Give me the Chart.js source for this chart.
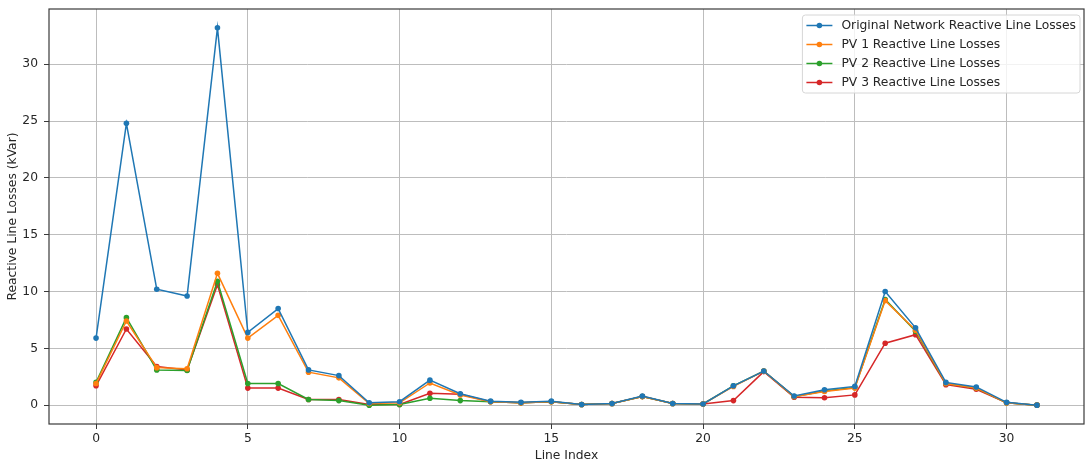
<!DOCTYPE html>
<html>
<head>
<meta charset="utf-8">
<script src="https://cdn.jsdelivr.net/npm/chart.js@4.4.1/dist/chart.umd.min.js"></script>
<style>
  html, body { margin: 0; padding: 0; background: #ffffff; }
  #wrap { width: 1085px; height: 466px; position: relative; }
</style>
</head>
<body>
<div id="wrap"><canvas id="c"></canvas></div>
<script>
// Line indices along the feeder
const lineIndex = [0, 1, 2, 3, 4, 5, 6, 7, 8, 9, 10, 11, 12, 13, 14, 15,
                   16, 17, 18, 19, 20, 21, 22, 23, 24, 25, 26, 27, 28, 29, 30, 31];

// Reactive line losses (kVar) per line
const originalLosses = [5.9, 24.8, 10.2, 9.6, 33.2, 6.4, 8.5, 3.1, 2.6, 0.2, 0.3, 2.2, 1.0, 0.35, 0.25, 0.35,
                        0.05, 0.15, 0.8, 0.15, 0.1, 1.7, 3.0, 0.8, 1.35, 1.65, 10.0, 6.8, 2.0, 1.6, 0.25, 0.0];
const pv1Losses = [1.9, 7.4, 3.3, 3.2, 11.6, 5.9, 7.9, 2.9, 2.4, 0.15, 0.2, 1.95, 0.9, 0.3, 0.2, 0.3,
                   0.05, 0.15, 0.75, 0.15, 0.1, 1.65, 3.0, 0.75, 1.2, 1.5, 9.2, 6.6, 1.9, 1.5, 0.2, 0.0];
const pv2Losses = [2.0, 7.7, 3.1, 3.05, 10.9, 1.9, 1.9, 0.5, 0.4, 0.0, 0.05, 0.6, 0.4, 0.3, 0.2, 0.3,
                   0.05, 0.15, 0.75, 0.15, 0.1, 1.7, 3.0, 0.75, 1.25, 1.55, 9.3, 6.5, 1.9, 1.5, 0.2, 0.0];
const pv3Losses = [1.7, 6.7, 3.4, 3.1, 10.6, 1.5, 1.5, 0.5, 0.5, 0.05, 0.05, 1.05, 0.95, 0.3, 0.2, 0.3,
                   0.05, 0.15, 0.75, 0.15, 0.1, 0.4, 2.95, 0.7, 0.65, 0.9, 5.45, 6.2, 1.8, 1.4, 0.2, 0.0];

const seriesNames = [
  'Original Network Reactive Line Losses',
  'PV 1 Reactive Line Losses',
  'PV 2 Reactive Line Losses',
  'PV 3 Reactive Line Losses'
];
const seriesColors = ['#1f77b4', '#ff7f0e', '#2ca02c', '#d62728'];

// Tick labels
const xTicks = [0, 5, 10, 15, 20, 25, 30];
const yTicks = [0, 5, 10, 15, 20, 25, 30];

const FONT = '"DejaVu Sans", "Liberation Sans", sans-serif';
const FS = 12.3;
const TEXT = '#262626';

function toPoints(values) {
  return lineIndex.map((x, i) => ({ x: x, y: values[i] }));
}

const allSeries = [originalLosses, pv1Losses, pv2Losses, pv3Losses];
const datasets = allSeries.map((vals, k) => ({
  label: seriesNames[k],
  data: toPoints(vals),
  borderColor: seriesColors[k],
  backgroundColor: seriesColors[k],
  pointBackgroundColor: seriesColors[k],
  pointBorderColor: seriesColors[k],
  borderWidth: 1.5,
  pointRadius: 2.8,
  pointBorderWidth: 0,
  tension: 0
}));

// matplotlib-style axis margins (5% of the data span on each side)
const xSpan = lineIndex[lineIndex.length - 1] - lineIndex[0];
const allVals = allSeries.flat();
const yMinData = Math.min(...allVals), yMaxData = Math.max(...allVals);
const ySpan = yMaxData - yMinData;

// Frame around the plotting area
const framePlugin = {
  id: 'frame',
  afterDatasetsDraw(chart) {
    const { ctx, chartArea: a } = chart;
    ctx.save();
    ctx.strokeStyle = '#3a3a3a';
    ctx.lineWidth = 1.2;
    ctx.strokeRect(a.left, a.top, a.right - a.left, a.bottom - a.top);
    ctx.restore();
  }
};

// Framed legend in the upper-right corner of the plot
const boxLegendPlugin = {
  id: 'boxLegend',
  afterDraw(chart) {
    const { ctx, chartArea: a } = chart;
    ctx.save();
    ctx.font = FS + 'px ' + FONT;
    const items = chart.data.datasets.map(d => ({ text: d.label, color: d.borderColor }));
    const textW = Math.max(...items.map(it => ctx.measureText(it.text).width));
    const pad = 4, handle = 26, gap = 9, rowH = 19;
    const w = pad + handle + gap + textW + pad;
    const h = rowH * items.length + 2;
    const x0 = a.right - 4 - w;
    const y0 = a.top + 6;
    // box
    const r = 3;
    ctx.beginPath();
    ctx.moveTo(x0 + r, y0);
    ctx.lineTo(x0 + w - r, y0);
    ctx.quadraticCurveTo(x0 + w, y0, x0 + w, y0 + r);
    ctx.lineTo(x0 + w, y0 + h - r);
    ctx.quadraticCurveTo(x0 + w, y0 + h, x0 + w - r, y0 + h);
    ctx.lineTo(x0 + r, y0 + h);
    ctx.quadraticCurveTo(x0, y0 + h, x0, y0 + h - r);
    ctx.lineTo(x0, y0 + r);
    ctx.quadraticCurveTo(x0, y0, x0 + r, y0);
    ctx.closePath();
    ctx.fillStyle = 'rgba(255,255,255,0.8)';
    ctx.fill();
    ctx.strokeStyle = '#d6d6d6';
    ctx.lineWidth = 1;
    ctx.stroke();
    // entries
    items.forEach((it, i) => {
      const cy = y0 + 10.5 + i * rowH;
      const lx = x0 + pad;
      ctx.strokeStyle = it.color;
      ctx.lineWidth = 1.5;
      ctx.beginPath();
      ctx.moveTo(lx, cy);
      ctx.lineTo(lx + handle, cy);
      ctx.stroke();
      ctx.fillStyle = it.color;
      ctx.beginPath();
      ctx.arc(lx + handle / 2, cy, 2.8, 0, Math.PI * 2);
      ctx.fill();
      ctx.fillStyle = TEXT;
      ctx.textBaseline = 'middle';
      ctx.textAlign = 'left';
      ctx.fillText(it.text, lx + handle + gap, cy + 0.5);
    });
    ctx.restore();
  }
};

new Chart(document.getElementById('c'), {
  type: 'line',
  data: { datasets: datasets },
  options: {
    responsive: true,
    maintainAspectRatio: false,
    animation: false,
    devicePixelRatio: 1,
    layout: { autoPadding: false, padding: { top: 9, right: 1, left: 0, bottom: 0 } },
    plugins: {
      legend: { display: false },
      tooltip: { enabled: false }
    },
    scales: {
      x: {
        type: 'linear',
        min: lineIndex[0] - 0.05 * xSpan,
        max: lineIndex[lineIndex.length - 1] + 0.05 * xSpan,
        afterBuildTicks(scale) { scale.ticks = xTicks.map(v => ({ value: v })); },
        afterFit(scale) { scale.height = 42; scale.paddingLeft = 0; scale.paddingRight = 0; },
        grid: { color: '#bdbdbd', lineWidth: 1, tickLength: 5, tickColor: '#3a3a3a', drawTicks: true },
        border: { display: false },
        ticks: { color: TEXT, font: { family: FONT, size: FS }, padding: 2, maxRotation: 0, autoSkip: false },
        title: { display: true, text: 'Line Index', color: TEXT, font: { family: FONT, size: FS }, padding: { top: 2, bottom: 3 } }
      },
      y: {
        type: 'linear',
        min: yMinData - 0.05 * ySpan,
        max: yMaxData + 0.05 * ySpan,
        afterBuildTicks(scale) { scale.ticks = yTicks.map(v => ({ value: v })); },
        afterFit(scale) { scale.width = 49; scale.paddingTop = 0; scale.paddingBottom = 0; },
        grid: { color: '#bdbdbd', lineWidth: 1, tickLength: 5, tickColor: '#3a3a3a', drawTicks: true },
        border: { display: false },
        ticks: { color: TEXT, font: { family: FONT, size: FS }, padding: 6, autoSkip: false },
        title: { display: true, text: 'Reactive Line Losses (kVar)', color: TEXT, font: { family: FONT, size: FS }, padding: { top: 5, bottom: 2 } }
      }
    }
  },
  plugins: [framePlugin, boxLegendPlugin]
});
</script>
</body>
</html>
